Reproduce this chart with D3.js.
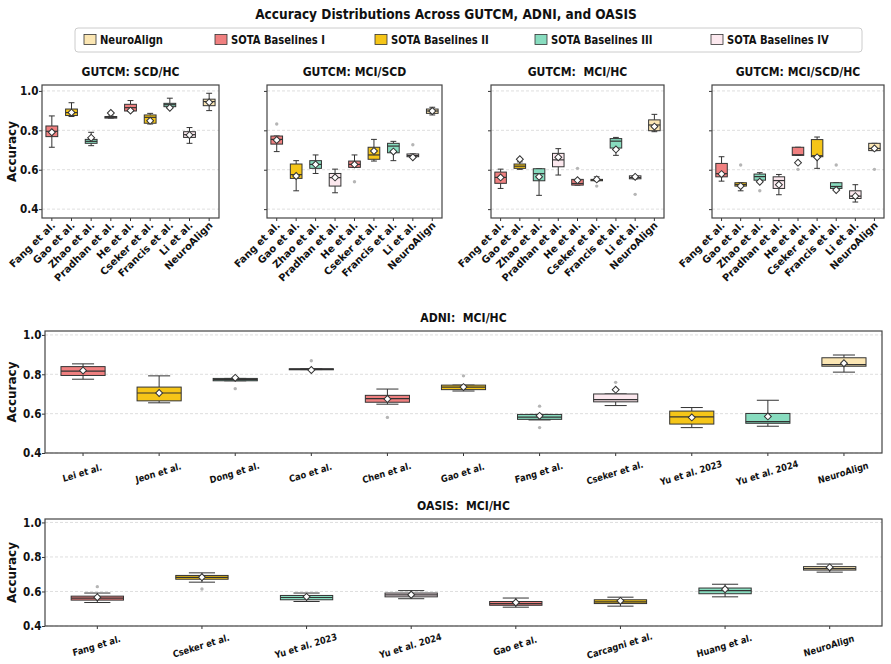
<!DOCTYPE html>
<html>
<head>
<meta charset="utf-8">
<script src="https://cdn.jsdelivr.net/npm/d3@7"></script>
<style>
  body { margin: 0; background: #fff; }
  text { font-family: "DejaVu Sans", sans-serif; font-weight: bold; fill: #111; white-space: pre; }
</style>
</head>
<body>
<svg id="chart" width="891" height="664"></svg>
<script>
// ---- data ----
const groupNames = ['NeuroAlign', 'SOTA Baselines I', 'SOTA Baselines II', 'SOTA Baselines III', 'SOTA Baselines IV'];
const groupColors = ['#fbe6b3', '#f08080', '#f5c518', '#88dcbf', '#fce8ee'];

const gutcmMethods = ['Fang et al.', 'Gao et al.', 'Zhao et al.', 'Pradhan et al.', 'He et al.',
                      'Cseker et al.', 'Francis et al.', 'Li et al.', 'NeuroAlign'];
const gutcmGroups = [1, 2, 3, 4, 1, 2, 3, 4, 0];

// each row: [low whisker, q1, median, q3, high whisker, mean]
const scdHcStats = [
    [0.714, 0.768, 0.795, 0.822, 0.873, 0.790],
    [0.870, 0.875, 0.890, 0.908, 0.940, 0.890],
    [0.722, 0.734, 0.744, 0.754, 0.790, 0.762],
    [0.862, 0.862, 0.866, 0.870, 0.872, 0.888],
    [0.895, 0.898, 0.915, 0.932, 0.951, 0.900],
    [0.832, 0.836, 0.866, 0.878, 0.886, 0.849],
    [0.917, 0.920, 0.930, 0.937, 0.963, 0.914],
    [0.734, 0.764, 0.778, 0.793, 0.814, 0.776],
    [0.900, 0.925, 0.946, 0.958, 0.988, 0.942]
];
const scdHcOutliers = [];

const mciScdStats = [
    [0.692, 0.730, 0.754, 0.771, 0.771, 0.751],
    [0.493, 0.556, 0.575, 0.629, 0.646, 0.568],
    [0.581, 0.607, 0.627, 0.646, 0.675, 0.627],
    [0.483, 0.517, 0.560, 0.581, 0.603, 0.561],
    [0.612, 0.612, 0.627, 0.644, 0.675, 0.627],
    [0.644, 0.653, 0.675, 0.714, 0.754, 0.695],
    [0.646, 0.686, 0.720, 0.734, 0.744, 0.692],
    [0.663, 0.666, 0.672, 0.680, 0.680, 0.663],
    [0.878, 0.886, 0.898, 0.908, 0.917, 0.898]
];
const mciScdOutliers = [[0, 0.832], [4, 0.539], [7, 0.727]];

const mciHcStats = [
    [0.505, 0.531, 0.561, 0.588, 0.603, 0.561],
    [0.602, 0.607, 0.618, 0.629, 0.640, 0.653],
    [0.470, 0.544, 0.580, 0.605, 0.605, 0.564],
    [0.573, 0.615, 0.650, 0.683, 0.707, 0.663],
    [0.522, 0.522, 0.530, 0.551, 0.551, 0.547],
    [0.544, 0.544, 0.547, 0.551, 0.564, 0.551],
    [0.673, 0.710, 0.745, 0.758, 0.764, 0.703],
    [0.554, 0.554, 0.560, 0.569, 0.569, 0.564],
    [0.793, 0.798, 0.827, 0.853, 0.881, 0.819]
];
const mciHcOutliers = [[4, 0.607], [5, 0.517], [7, 0.475]];

const mciScdHcStats = [
    [0.542, 0.564, 0.580, 0.632, 0.666, 0.578],
    [0.493, 0.517, 0.525, 0.534, 0.534, 0.517],
    [0.547, 0.547, 0.565, 0.578, 0.585, 0.539],
    [0.473, 0.505, 0.545, 0.564, 0.576, 0.524],
    [0.673, 0.673, 0.676, 0.714, 0.714, 0.636],
    [0.607, 0.666, 0.671, 0.753, 0.766, 0.663],
    [0.505, 0.505, 0.515, 0.534, 0.534, 0.497],
    [0.436, 0.454, 0.466, 0.493, 0.524, 0.466],
    [0.697, 0.697, 0.708, 0.734, 0.734, 0.708]
];
const mciScdHcOutliers = [[1, 0.624], [2, 0.493], [4, 0.602], [6, 0.624], [8, 0.602]];

const adniMethods = ['Lei et al.', 'Jeon et al.', 'Dong et al.', 'Cao et al.', 'Chen et al.', 'Gao et al.',
                     'Fang et al.', 'Cseker et al.', 'Yu et al. 2023', 'Yu et al. 2024', 'NeuroAlign'];
const adniGroups = [1, 2, 3, 4, 1, 2, 3, 4, 2, 3, 0];
const adniStats = [
    [0.775, 0.794, 0.816, 0.839, 0.853, 0.819],
    [0.655, 0.665, 0.705, 0.735, 0.792, 0.705],
    [0.767, 0.767, 0.773, 0.779, 0.779, 0.782],
    [0.824, 0.824, 0.826, 0.828, 0.828, 0.822],
    [0.648, 0.658, 0.676, 0.693, 0.725, 0.675],
    [0.715, 0.722, 0.735, 0.745, 0.745, 0.735],
    [0.568, 0.571, 0.582, 0.596, 0.596, 0.589],
    [0.641, 0.660, 0.671, 0.700, 0.700, 0.722],
    [0.529, 0.547, 0.584, 0.613, 0.631, 0.581],
    [0.536, 0.551, 0.559, 0.601, 0.668, 0.586],
    [0.811, 0.841, 0.849, 0.884, 0.898, 0.856]
];
const adniOutliers = [[2, 0.727], [3, 0.869], [4, 0.581], [5, 0.792], [6, 0.638], [6, 0.529], [7, 0.759]];

const oasisMethods = ['Fang et al.', 'Cseker et al.', 'Yu et al. 2023', 'Yu et al. 2024',
                      'Gao et al.', 'Carcagni et al.', 'Huang et al.', 'NeuroAlign'];
const oasisGroups = [1, 2, 3, 4, 1, 2, 3, 0];
const oasisStats = [
    [0.536, 0.550, 0.562, 0.573, 0.591, 0.566],
    [0.654, 0.671, 0.682, 0.693, 0.708, 0.683],
    [0.542, 0.552, 0.565, 0.577, 0.591, 0.569],
    [0.558, 0.569, 0.580, 0.591, 0.605, 0.581],
    [0.509, 0.520, 0.530, 0.542, 0.562, 0.536],
    [0.515, 0.530, 0.540, 0.552, 0.567, 0.546],
    [0.569, 0.587, 0.605, 0.620, 0.642, 0.613],
    [0.712, 0.724, 0.733, 0.744, 0.759, 0.740]
];
const oasisOutliers = [[0, 0.628], [1, 0.614]];

const yTicks = [0.4, 0.6, 0.8, 1.0];

// ---- drawing ----
const SX = 0.87;   // horizontal squeeze of the lettering in the reference
const edge = '#333';
const svg = d3.select('#chart');

svg.append('text')
    .attr('transform', `translate(446,19) scale(${SX},1)`)
    .attr('text-anchor', 'middle')
    .style('font-size', '14px')
    .text('Accuracy Distributions Across GUTCM, ADNI, and OASIS');

// legend
const legend = svg.append('g');
legend.append('rect')
    .attr('x', 75).attr('y', 28).attr('width', 787).attr('height', 24).attr('rx', 3)
    .attr('fill', '#fff').attr('stroke', '#ccc');
const legendX = [84, 215, 375, 535, 711];
groupNames.forEach((name, i) => {
    legend.append('rect')
        .attr('x', legendX[i]).attr('y', 34.5).attr('width', 12).attr('height', 10)
        .attr('fill', groupColors[i]).attr('stroke', edge).attr('stroke-width', 0.8);
    legend.append('text')
        .attr('transform', `translate(${legendX[i] + 16},44) scale(${SX},1)`)
        .style('font-size', '11.5px')
        .text(name);
});

function drawPanel(cfg) {
    const g = svg.append('g');
    const x = d3.scaleBand().domain(cfg.names).range([cfg.x0, cfg.x1]);
    const y = d3.scaleLinear().domain(cfg.domain).range([cfg.y1, cfg.y0]);
    const bw = x.bandwidth();
    const cx = i => x(cfg.names[i]) + bw / 2;
    const w = bw * cfg.boxFrac;

    // grid
    g.selectAll('.grid')
        .data(yTicks)
        .join('line')
        .attr('x1', cfg.x0).attr('x2', cfg.x1)
        .attr('y1', d => y(d)).attr('y2', d => y(d))
        .attr('stroke', '#d0d0d0').attr('stroke-width', 0.7)
        .attr('stroke-dasharray', '3,2');

    // y axis
    const yAxis = g.append('g')
        .attr('transform', `translate(${cfg.x0},0)`)
        .call(d3.axisLeft(y).tickValues(yTicks).tickSize(3).tickPadding(1)
            .tickFormat(cfg.showYLabels ? d3.format('.1f') : ''));
    yAxis.select('.domain').remove();
    yAxis.selectAll('.tick line').attr('stroke', edge);
    yAxis.selectAll('.tick text')
        .attr('transform', `scale(${SX},1)`)
        .style('font-size', '12px').attr('fill', '#111');

    // x axis
    const xAxis = g.append('g')
        .attr('transform', `translate(0,${cfg.y1})`)
        .call(d3.axisBottom(x).tickSize(3));
    xAxis.select('.domain').remove();
    xAxis.selectAll('.tick line').attr('stroke', edge);
    const xt = xAxis.selectAll('.tick text').attr('x', 0).attr('y', 0).attr('dy', 0).attr('fill', '#111');
    if (cfg.rot === 45) {
        xt.attr('text-anchor', 'end')
            .attr('transform', 'translate(4,8) rotate(-45)')
            .style('font-size', '10px');
    } else {
        xt.attr('text-anchor', 'middle')
            .attr('transform', `translate(0,23) scale(${SX},1) rotate(-15)`)
            .style('font-size', '9.5px');
    }

    // boxes
    const box = g.selectAll('.box')
        .data(cfg.stats)
        .join('g');
    box.append('line')
        .attr('x1', (d, i) => cx(i)).attr('x2', (d, i) => cx(i))
        .attr('y1', d => y(d[3])).attr('y2', d => y(d[4]))
        .attr('stroke', edge).attr('stroke-width', 1);
    box.append('line')
        .attr('x1', (d, i) => cx(i)).attr('x2', (d, i) => cx(i))
        .attr('y1', d => y(d[1])).attr('y2', d => y(d[0]))
        .attr('stroke', edge).attr('stroke-width', 1);
    [0, 4].forEach(k => {
        box.append('line')
            .attr('x1', (d, i) => cx(i) - w / 4).attr('x2', (d, i) => cx(i) + w / 4)
            .attr('y1', d => y(d[k])).attr('y2', d => y(d[k]))
            .attr('stroke', edge).attr('stroke-width', 1);
    });
    box.append('rect')
        .attr('x', (d, i) => cx(i) - w / 2).attr('width', w)
        .attr('y', d => y(d[3])).attr('height', d => Math.max(1, y(d[1]) - y(d[3])))
        .attr('fill', (d, i) => groupColors[cfg.groups[i]])
        .attr('stroke', edge).attr('stroke-width', 1);
    box.append('line')
        .attr('x1', (d, i) => cx(i) - w / 2).attr('x2', (d, i) => cx(i) + w / 2)
        .attr('y1', d => y(d[2])).attr('y2', d => y(d[2]))
        .attr('stroke', edge).attr('stroke-width', 1.2);

    // outliers
    g.selectAll('.out')
        .data(cfg.outliers)
        .join('circle')
        .attr('cx', d => cx(d[0])).attr('cy', d => y(d[1])).attr('r', 1.7)
        .attr('fill', '#b5b5b5');

    // means
    const diamond = d3.symbol().type(d3.symbolSquare).size(24);
    box.append('path')
        .attr('d', diamond)
        .attr('transform', (d, i) => `translate(${cx(i)},${y(d[5])}) rotate(45)`)
        .attr('fill', '#fff').attr('stroke', edge).attr('stroke-width', 1);

    // frame
    g.append('rect')
        .attr('x', cfg.x0).attr('y', cfg.y0)
        .attr('width', cfg.x1 - cfg.x0).attr('height', cfg.y1 - cfg.y0)
        .attr('fill', 'none').attr('stroke', '#444').attr('stroke-width', 1.2);

    // title
    g.append('text')
        .attr('transform', `translate(${(cfg.x0 + cfg.x1) / 2},${cfg.y0 - 9}) scale(${SX},1)`)
        .attr('text-anchor', 'middle')
        .style('font-size', '12.5px')
        .text(cfg.title);

    if (cfg.showYLabels) {
        g.append('text')
            .attr('transform', `translate(16,${(cfg.y0 + cfg.y1) / 2}) rotate(-90)`)
            .attr('text-anchor', 'middle')
            .style('font-size', '12px')
            .text('Accuracy');
    }
}

const topDomain = [0.355, 1.03];
const topPanels = [
    { x0: 42, x1: 219, title: 'GUTCM: SCD/HC', stats: scdHcStats, outliers: scdHcOutliers, showYLabels: true },
    { x0: 267, x1: 442, title: 'GUTCM: MCI/SCD', stats: mciScdStats, outliers: mciScdOutliers },
    { x0: 491, x1: 664, title: 'GUTCM:  MCI/HC', stats: mciHcStats, outliers: mciHcOutliers },
    { x0: 712, x1: 884, title: 'GUTCM: MCI/SCD/HC', stats: mciScdHcStats, outliers: mciScdHcOutliers }
];
topPanels.forEach(p => drawPanel(Object.assign({
    y0: 85, y1: 218, domain: topDomain, names: gutcmMethods, groups: gutcmGroups,
    boxFrac: 0.6, rot: 45, showYLabels: false
}, p)));

drawPanel({
    x0: 45, x1: 882, y0: 331, y1: 453, domain: [0.4, 1.02], title: 'ADNI:  MCI/HC',
    names: adniMethods, groups: adniGroups, stats: adniStats, outliers: adniOutliers,
    boxFrac: 0.58, rot: 15, showYLabels: true
});

drawPanel({
    x0: 45, x1: 882, y0: 519, y1: 626, domain: [0.4, 1.02], title: 'OASIS:  MCI/HC',
    names: oasisMethods, groups: oasisGroups, stats: oasisStats, outliers: oasisOutliers,
    boxFrac: 0.5, rot: 15, showYLabels: true
});
</script>
</body>
</html>
